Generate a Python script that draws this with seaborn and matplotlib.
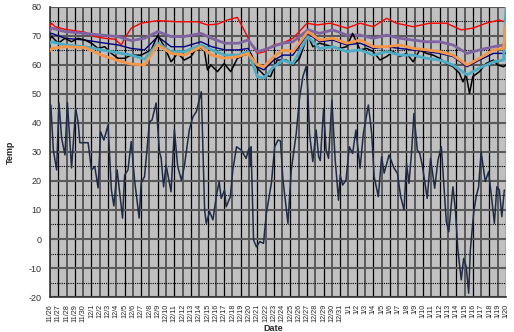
import pandas as pd
import matplotlib
matplotlib.use("Agg")
import matplotlib.pyplot as plt
import seaborn as sns
import numpy as np

sns.set_theme(style="white")
plt.rcParams['font.family'] = ['Liberation Sans', 'DejaVu Sans']

# date labels, one per day (day 0 = 11/26)
dates = pd.date_range('2000-11-26', '2001-01-20', freq='D')
date_labels = [f"{d.month}/{d.day}" for d in dates]

# outdoor temperature (day offset, value)
out_day = [0.1, 0.4, 0.8, 1.08, 1.4, 1.8, 2.1, 2.6, 3.1, 3.4, 3.6, 4.6, 5.0, 5.4, 5.8,
           6.1, 6.5, 7.0, 7.4, 7.7, 8.1, 8.75, 9.0, 9.4, 9.8, 10.2, 10.75, 11.0, 11.4,
           12.0, 12.3, 12.8, 13.2, 13.4, 13.7, 14.0, 14.6, 15.0, 15.4, 15.85, 16.2,
           16.8, 17.25, 17.65, 18.25, 18.65, 18.85, 19.25, 19.65, 20.05, 20.4, 20.65,
           21.05, 21.25, 21.75, 22.05, 22.5, 23.05, 23.65, 24.0, 24.15, 24.25, 24.55,
           24.9, 25.3, 25.75, 26.1, 26.7, 27.1, 27.5, 27.8, 28.1, 28.7, 29.1, 29.7,
           30.1, 30.5, 30.9, 31.1, 31.3, 31.7, 32.1, 32.4, 32.6, 33.0, 33.3, 33.6,
           34.0, 34.4, 34.8, 35.0, 35.3, 35.7, 36.1, 36.5, 36.9, 37.4, 37.8, 38.4,
           38.8, 39.1, 39.6, 40.0, 40.3, 40.9, 41.5, 41.9, 42.3, 42.7, 43.0, 43.3,
           43.6, 43.9, 44.3, 44.6, 44.9, 45.5, 45.9, 46.4, 46.8, 47.2, 47.8, 48.1,
           48.6, 48.9, 49.2, 49.6, 49.9, 50.2, 50.5, 50.7, 51.1, 51.4, 51.7, 52.0,
           52.5, 52.9, 53.3, 53.6, 53.9, 54.2, 54.5, 54.8]
out_temp = [46.2, 30.7, 23.8, 47, 34.8, 29, 47, 24.5, 45, 40, 33.2, 33.2, 23.8, 25, 17.6,
            37, 34.1, 39.3, 17, 11.4, 23.8, 7.2, 22, 23.8, 33.6, 20.3, 7.2, 19.3, 21.5,
            40.4, 41, 46.9, 30, 28, 18, 25.5, 16.3, 37.8, 25, 20.3, 25,
            37.6, 42.2, 43.9, 50.8, 10, 5.4, 9.4, 6.6, 14.6, 19.8, 14,
            16.9, 11.1, 14.6, 23.8, 31.8, 30.7, 27.8, 31.3, 25, 31.8, -0.3,
            -2.7, -0.9, -1.5, 8.9, 19.2, 31.8, 34.1, 33.8, 20.3, 5.4, 23.8, 36.4,
            48.5, 56, 59.5, 51.4, 36.4, 26.7, 37.6, 28.4, 27, 45, 30.7, 27.8,
            47.9, 27.2, 13.4, 22, 18.6, 20.3, 31.8, 29.5, 37.6, 24.4, 36.4, 46.2,
            36.4, 21.5, 14.6, 28.4, 22.7, 29, 24.4, 22.7, 14.6, 10, 26.1, 19.2,
            29.5, 43.3, 30.7, 29.5, 25.5, 14, 27.8, 17.5, 27.2, 31.8, 6, 2.5,
            18, 10, -3.8, -14.1, -6.7, -9.5, -18.7, -3.8, 8.9, 14.6, 18, 30.1,
            19.8, 23.2, 13.4, 5.4, 18, 16.9, 7.7, 16.9]

# indoor rooms
red_day = [0, 0.2, 0.6, 1.8, 3, 4.2, 5.4, 6.6, 7.8, 8.6, 9.0, 9.8, 11.0, 13.0, 15.4,
           17.8, 19, 20.2, 21.4, 22.6, 23.4, 24.2, 25, 25.8, 27, 28.1, 29.3, 31,
           32.2, 33.8, 35.8, 37.4, 39, 40.6, 41.8, 43.8, 45.8, 47.8, 49.6, 51,
           52.6, 54.2, 54.7, 55]
red_temp = [73.5, 74.4, 73.2, 72.3, 71.8, 71.3, 69.8, 69.2, 68.9, 66.9, 69.2, 72.7, 74.4,
            75.3, 74.9, 74.9, 73.8, 74.1, 75.5, 76.4, 72.1, 67.5, 64, 64.5, 66.9,
            67.6, 69.2, 74.4, 73.8, 74.4, 72.7, 74.4, 73.2, 76.1, 74.4, 73.2, 74.4,
            74.4, 72.1, 72.7, 74.4, 75.5, 75, 75.5]

room_day = [0, 0.2, 1.8, 4.2, 6.2, 8.2, 9.8, 11.4, 13, 14.6, 16.2, 18.2, 19.5, 21.1,
            22.7, 23.9, 25, 25.8, 27, 28.1, 29.3, 31.1, 32.5, 34.1, 35.8, 37.4, 39,
            40.6, 42.2, 43.8, 45.4, 47, 48.6, 50.3, 51.8, 53.5, 54.7, 55]
purple_temp = [72, 72.7, 71.5, 70.9, 70.3, 69.8, 68.4, 69.2, 71.5, 69.8, 69.8, 70.9, 69.2,
               67.5, 67.5, 68.6, 64.6, 65.2, 66.5, 67.5, 68, 72.1, 70.9, 72.1, 70.3,
               70.3, 69.2, 70.3, 69.2, 68.6, 68, 68, 66.9, 64, 65.2, 66.3, 66.9, 67]
navy_temp = [70.5, 70.9, 69.2, 68.6, 67.7, 66.9, 65.7, 65.2, 69.8, 66.3, 66.3, 68, 66.3,
             65.2, 65.2, 65.7, 59.4, 58.3, 61.7, 63.4, 63.4, 70.9, 68, 68.6, 66.9,
             67.5, 65.7, 66.3, 65.7, 65.2, 64.6, 64, 62.9, 59.4, 61.7, 64, 64, 64]
teal_temp = [67.5, 68, 66.9, 66.3, 65.2, 64.2, 63.4, 62, 67.5, 64.6, 64.6, 66.9, 65.2,
             63.4, 63.4, 64.6, 56, 55.5, 59.4, 61.7, 60.5, 69.8, 65.7, 66.3, 64.6,
             65.2, 63.4, 64.6, 63.4, 63.4, 62.3, 61.7, 60, 56.6, 58.9, 61.1, 61.7, 80]
orange_temp = [65, 65.7, 66.3, 66, 63.4, 61.5, 60.3, 60, 66.9, 64, 63.4, 66.3, 63.4,
               62.3, 62.9, 64, 60, 59.4, 62.9, 65.2, 64.6, 71.5, 68.6, 69.2, 67.5,
               68.6, 66.3, 66.3, 66.9, 65.7, 65.2, 64.6, 63.4, 60, 62.3, 65.2, 65.7, 74.4]

black_day = [0, 0.2, 1, 1.8, 2.6, 3.4, 4.2, 5, 5.8, 6.6, 7.4, 8.2, 9, 9.8, 11, 12.2, 13,
             13.8, 14.6, 15.4, 16.2, 17, 17.8, 18.6, 19, 19.4, 20.2, 21, 21.8, 22.6,
             23.4, 24.2, 25, 25.8, 26.6, 27.4, 28.5, 29.3, 30.1, 31.1, 31.7, 32.5,
             33.3, 34.1, 34.9, 35.8, 36.5, 37.4, 38.2, 39, 39.8, 40.6, 41.4, 42.2,
             43, 43.8, 44.6, 45.4, 46.2, 47, 47.8, 48.6, 49.4, 49.8, 50.2, 50.6, 51,
             51.8, 52.6, 53.5, 54, 54.7, 55]
black_temp = [69, 69.8, 67.5, 69.2, 68, 69.2, 68.6, 67.5, 65.7, 66.3, 64, 62.3, 62.3,
              63.4, 63.4, 65.2, 70.3, 66.3, 61.1, 64, 61.7, 62.9, 66.3, 65.2, 58.3, 60,
              57.7, 60.5, 57.7, 62.3, 63.4, 64, 58.9, 56.6, 56, 61.7, 61.7, 60, 62.3,
              70.3, 66.3, 67.5, 66.9, 66.3, 65.7, 66.3, 70.9, 65.2, 65.7, 64.6, 61.7,
              62.9, 64.6, 62.9, 64, 61.1, 65.2, 64, 63.4, 62.3, 60.5, 59.4, 57.1, 54.2,
              56.6, 50.2, 56, 57.7, 60.5, 61.7, 60, 59.4, 60]

series = [
    ("Outside", out_day, out_temp, "#1f2b47", 1.1),
    ("Room A", red_day, red_temp, "#ff0000", 1.0),
    ("Room B", room_day, purple_temp, "#8064a2", 2.0),
    ("Room C", room_day, navy_temp, "#000080", 1.0),
    ("Room D", black_day, black_temp, "#000000", 1.1),
    ("Room E", room_day, teal_temp, "#4bacc6", 2.0),
    ("Room F", room_day, orange_temp, "#f79646", 2.0),
]

fig = plt.figure(figsize=(5.14, 3.32), dpi=100)
ax = fig.add_axes([0.0973, 0.1054, 0.8871, 0.8736])
ax.set_facecolor("#c0c0c0")

for name, xd, yd, col, lw in series:
    df = pd.DataFrame({"day": xd, "temp": yd})
    sns.lineplot(data=df, x="day", y="temp", color=col, linewidth=lw,
                 sort=False, estimator=None, ax=ax, zorder=3)

ax.set_xlim(0, 55)
ax.set_ylim(-20, 80)

# x gridlines: alternate gray / black per day
ax.set_xticks(np.arange(0, 56, 2))
ax.set_xticks(np.arange(1, 56, 2), minor=True)
ax.set_xticklabels(date_labels[0::2], rotation=90, fontsize=5.2, color="#222222")
ax.set_xticklabels(date_labels[1::2], minor=True, rotation=90, fontsize=5.2, color="#222222")
ax.set_yticks(np.arange(-20, 81, 10))
ax.set_yticks(np.arange(-15, 80, 10), minor=True)
ax.set_yticklabels([str(v) for v in range(-20, 81, 10)], fontsize=6.5, color="#333333")

ax.grid(axis="x", which="major", color="#5a5a5a", linewidth=1.4, zorder=1)
ax.grid(axis="x", which="minor", color="#000000", linewidth=0.9, zorder=1)
ax.grid(axis="y", which="major", color="#5a5a5a", linewidth=1.5, zorder=1)
ax.grid(axis="y", which="minor", color="#000000", linewidth=0.8, linestyle=(0, (1, 1)), zorder=1)
ax.set_axisbelow(True)
ax.tick_params(axis="x", which="both", length=0, pad=5)
ax.tick_params(axis="y", which="both", length=0, pad=6)

for s in ["top", "right"]:
    ax.spines[s].set_visible(False)
for s in ["left", "bottom"]:
    ax.spines[s].set_color("#333333")
    ax.spines[s].set_linewidth(1.2)

ax.set_xlabel("Date", fontsize=6.5, fontweight="bold")
ax.xaxis.set_label_coords(0.49, -0.092)
ax.set_ylabel("Temp", fontsize=6.5, fontweight="bold", labelpad=10)

fig.savefig("out.png", dpi=100)
